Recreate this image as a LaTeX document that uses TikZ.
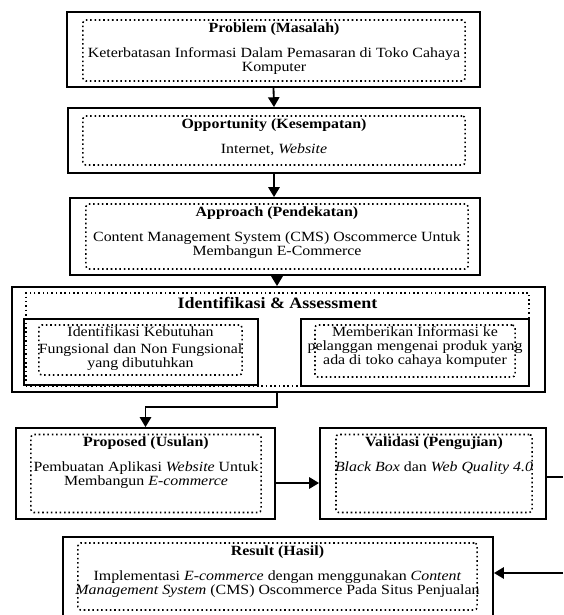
\documentclass[tikz,border=0pt]{standalone}
\usepackage{fontspec}
\setmainfont{Liberation Serif}[FakeStretch=1.13]
\usetikzlibrary{arrows.meta, positioning}

\tikzset{
  outbox/.style={draw, line width=1.3pt, inner sep=0pt},
  inbox/.style={draw, dotted, line width=1.1pt, rounded corners=2pt, inner sep=0pt},
  txt/.style={align=center, font=\fontsize{10}{10.2}\selectfont, inner sep=0pt},
  arr/.style={line width=1.3pt, -{Triangle[width=8pt,length=7pt]}},
  ln/.style={line width=1.3pt}
}

\begin{document}
\begin{tikzpicture}[x=0.025cm, y=-0.025cm]
\clip (0,0) rectangle (563,615);

% Problem
\node[outbox, minimum width=10.325cm, minimum height=1.875cm] (prob) at (273.5,49.5) {};
\node[inbox, minimum width=9.55cm, minimum height=1.525cm] (probin) at (274,50.5) {};
\node[txt, anchor=north] (probtx) at (274,22) {\textbf{Problem (Masalah)}\\[8pt]
  Keterbatasan Informasi Dalam Pemasaran di Toko Cahaya\\ Komputer};

% Opportunity
\node[outbox, minimum width=10.3cm, minimum height=1.625cm] (opp) at (274,140.5) {};
\node[inbox, minimum width=9.55cm, minimum height=1.225cm] (oppin) at (274,140.5) {};
\node[txt, anchor=north] (opptx) at (274,118) {\textbf{Opportunity (Kesempatan)}\\[8pt]
  Internet, \textit{Website}};

% Approach
\node[outbox, minimum width=10.25cm, minimum height=1.925cm] (appr) at (275,236.5) {};
\node[inbox, minimum width=9.55cm, minimum height=1.625cm] (apprin) at (277,236.5) {};
\node[txt, anchor=north] (apprtx) at (277,206) {\textbf{Approach (Pendekatan)}\\[8pt]
  Content Management System (CMS) Oscommerce Untuk\\ Membangun E-Commerce};

% Identifikasi & Assessment
\node[outbox, minimum width=13.325cm, minimum height=2.625cm] (iden) at (278.5,339.5) {};
\node[inbox, rounded corners=0pt, minimum width=12.575cm, minimum height=2.325cm] (idenin) at (277.5,339.5) {};
\node[txt, anchor=north, font=\fontsize{11.3}{12}\selectfont\bfseries] (identx) at (277.5,297) {Identifikasi \& Assessment};

\node[outbox, minimum width=5.85cm, minimum height=1.65cm] (kebt) at (141,352) {};
\node[inbox, minimum width=5.075cm, minimum height=1.25cm] (kebtin) at (140.5,350) {};
\node[txt, anchor=north] (kebttx) at (140.5,326) {Identifikasi Kebutuhan\\[2pt]
  Fungsional dan Non Fungsional\\ yang dibutuhkan};

\node[outbox, minimum width=5.7cm, minimum height=1.675cm] (info) at (415,352.5) {};
\node[inbox, minimum width=5cm, minimum height=1.3cm] (infoin) at (415,351) {};
\node[txt, anchor=north] (infotx) at (415,326) {Memberikan Informasi ke\\
  pelanggan mengenai produk yang\\ ada di toko cahaya komputer};

% Proposed
\node[outbox, minimum width=6.475cm, minimum height=2.275cm] (prop) at (145.5,473.5) {};
\node[inbox, minimum width=5.75cm, minimum height=1.95cm] (propin) at (146,473.5) {};
\node[txt, anchor=north] (proptx) at (146,436) {\textbf{Proposed (Usulan)}\\[8pt]
  Pembuatan Aplikasi \textit{Website} Untuk\\ Membangun \textit{E-commerce}};

% Validasi
\node[outbox, minimum width=5.65cm, minimum height=2.275cm] (vali) at (433,473.5) {};
\node[inbox, minimum width=4.9cm, minimum height=1.95cm] (valiin) at (434,473.5) {};
\node[txt, anchor=north] (valitx) at (434,436) {\textbf{Validasi (Pengujian)}\\[8pt]
  \textit{Black Box} dan \textit{Web Quality 4.0}};

% Result
\node[outbox, minimum width=10.75cm, minimum height=2.575cm] (resl) at (278,588.5) {};
\node[inbox, minimum width=9.975cm, minimum height=1.675cm] (reslin) at (277.5,576.5) {};
\node[txt, anchor=north] (reslx) at (277.5,545) {\textbf{Result (Hasil)}\\[8pt]
  Implementasi \textit{E-commerce} dengan menggunakan \textit{Content}\\
  \textit{Management System} (CMS) Oscommerce Pada Situs Penjualan};

% connectors
\coordinate (bend) at (277,407);
\coordinate (outv) at (563,477);
\coordinate (inres) at (563,573);
\draw[arr] (prob.south) -- (opp.north);
\draw[arr] (opp.south) -- (opp.south |- appr.north);
\draw[arr] (appr.south -| bend) -- (bend |- iden.north);
\draw[arr] (iden.south -| bend) -- (bend) -| (prop.north);
\draw[arr] (prop.east |- 0,483) -- (vali.west |- 0,483);
\draw[ln] (vali.east |- outv) -- (outv);
\draw[arr] (inres) -- (resl.east |- inres);
\end{tikzpicture}
\end{document}
